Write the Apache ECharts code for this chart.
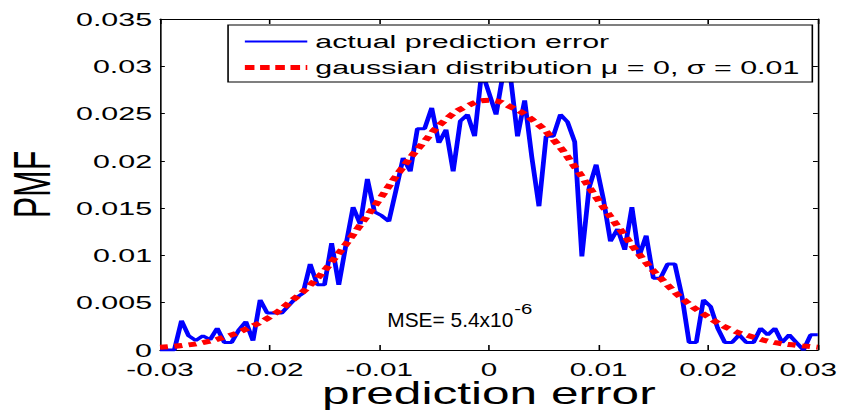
<!DOCTYPE html>
<html><head><meta charset="utf-8">
<script src="https://cdn.jsdelivr.net/npm/echarts@6/dist/echarts.min.js"></script>
<style>
html,body{margin:0;padding:0;background:#fff;overflow:hidden;width:845px;height:410px}
#wrap{width:845px;height:410px;overflow:hidden;position:relative}
#chart{width:528px;height:410px;transform:scaleX(1.6004);transform-origin:0 0;position:absolute;left:0;top:0}
</style></head><body><div id="wrap"><div id="chart"></div></div>
<script>
// ---- data ----
const binStart = -0.03;
const binStep = 0.06 / 92;
const actualPmf = [
  0, 0, 0, 0.0031, 0.0015, 0.0010, 0.0015, 0.0011, 0.0023, 0.0008,
  0.0008, 0.0021, 0.0030, 0.0010, 0.0053, 0.0039, 0.0039, 0.0039, 0.0047, 0.0055,
  0.0060, 0.0091, 0.0069, 0.0069, 0.0113, 0.0069, 0.0111, 0.0151, 0.0133, 0.0181,
  0.0146, 0.0142, 0.0136, 0.0169, 0.0203, 0.0189, 0.0234, 0.0234, 0.0256, 0.0219,
  0.0233, 0.0189, 0.0242, 0.0249, 0.0226, 0.0295, 0.0272, 0.0249, 0.0293, 0.0290,
  0.0226, 0.0264, 0.0204, 0.0152, 0.0226, 0.0226, 0.0249, 0.0241, 0.0220, 0.0099,
  0.0171, 0.0196, 0.0160, 0.0115, 0.0128, 0.0106, 0.0151, 0.0099, 0.0121, 0.0076,
  0.0076, 0.0091, 0.0091, 0.0057, 0.0008, 0.0008, 0.0053, 0.0046, 0.0023, 0.0008,
  0.0008, 0.0016, 0.0008, 0.0008, 0.0023, 0.0016, 0.0023, 0.0008, 0.0016, 0.0008,
  0, 0.0016, 0.0016
];
const gaussX = [-0.030,-0.028,-0.026,-0.024,-0.022,-0.020,-0.018,-0.016,-0.014,-0.012,-0.010,
  -0.008,-0.006,-0.004,-0.002,0,0.002,0.004,0.006,0.008,0.010,0.012,0.014,0.016,0.018,0.020,
  0.022,0.024,0.026,0.028,0.030];
const gaussPmf = [0.0003,0.00047,0.0008,0.0014,0.0023,0.0035,0.0052,0.0072,0.0098,0.0128,0.0159,
  0.0191,0.0219,0.0243,0.0258,0.0264,0.0257,0.0243,0.0221,0.0191,0.0158,0.0127,0.0097,0.0072,
  0.0051,0.0035,0.0022,0.0014,0.0008,0.0005,0.0003];
const xTickValues = [-0.03,-0.02,-0.01,0,0.01,0.02,0.03];
const xTickLabels = ['-0.03','-0.02','-0.01','0','0.01','0.02','0.03'];
const yTickValues = [0,0.005,0.01,0.015,0.02,0.025,0.03,0.035];
const yTickLabels = ['0','0.005','0.01','0.015','0.02','0.025','0.03','0.035'];
const seriesNames = ['actual prediction error','gaussian distribution \u03bc = 0, \u03c3 = 0.01'];
const mseText = 'MSE= 5.4x10';
const mseExp = '-6';
// --------------------------------------

const FONT = '"Liberation Sans", Arial, Helvetica, sans-serif';
function lookup(vals, labels){
  return function(v){
    for (let i=0;i<vals.length;i++){ if (Math.abs(vals[i]-v) < 1e-9) return labels[i]; }
    return '';
  };
}
const xLabelFmt = function(v){
  const s = lookup(xTickValues, xTickLabels)(v);
  return (Math.abs(v - xTickValues[xTickValues.length-1]) < 1e-9) ? '{last|' + s + '}' : s;
};
const blueData = actualPmf.map((y,i)=>[binStart + i*binStep, y]);
const redData = gaussX.map((x,i)=>[x, gaussPmf[i]]);

const chart = echarts.init(document.getElementById('chart'), null, {renderer:'svg'});
const axisCommon = {
  axisLine:{show:true, onZero:false, lineStyle:{color:'#000', width:1}},
  splitLine:{show:false}
};
chart.setOption({
  animation:false,
  backgroundColor:'#fff',
  grid:{left:100, right:17, top:19, bottom:60, containLabel:false, outerBoundsMode:'none'},
  xAxis:[
    Object.assign({}, axisCommon, {
      type:'value', min:-0.03, max:0.03, interval:0.01, position:'bottom',
      axisTick:{show:true, inside:true, length:5, lineStyle:{color:'#000'}},
      axisLabel:{color:'#000', fontFamily:FONT, fontSize:18.5, lineHeight:17, margin:11, formatter:xLabelFmt, showMinLabel:true, showMaxLabel:true,
        rich:{last:{fontFamily:FONT, fontSize:18.5, lineHeight:17, color:'#000', width:48, align:'left'}}},
      name:'prediction error', nameLocation:'middle', nameGap:30, nameMoveOverlap:false,
      nameTextStyle:{color:'#000', fontFamily:FONT, fontSize:31, lineHeight:28}
    }),
    Object.assign({}, axisCommon, {
      type:'value', min:-0.03, max:0.03, interval:0.01, position:'top',
      axisTick:{show:true, inside:true, length:5, lineStyle:{color:'#000'}},
      axisLabel:{show:false}
    })
  ],
  yAxis:[
    Object.assign({}, axisCommon, {
      type:'value', min:0, max:0.035, interval:0.005, position:'left',
      axisTick:{show:true, inside:true, length:3, lineStyle:{color:'#000'}},
      axisLabel:{color:'#000', fontFamily:FONT, fontSize:19, lineHeight:17, margin:5, formatter:lookup(yTickValues,yTickLabels), showMinLabel:true, showMaxLabel:true},
      name:'PMF', nameLocation:'middle', nameGap:64, nameRotate:90, nameMoveOverlap:false,
      nameTextStyle:{color:'#000', fontFamily:FONT, fontSize:32}
    }),
    Object.assign({}, axisCommon, {
      type:'value', min:0, max:0.035, interval:0.005, position:'right',
      axisTick:{show:true, inside:true, length:3, lineStyle:{color:'#000'}},
      axisLabel:{show:false}
    })
  ],
  legend:{
    orient:'vertical', left:142.5, top:25, align:'left',
    itemWidth:39, itemHeight:14, itemGap:7,
    padding:[7,8,5,8],
    backgroundColor:'#fff', borderColor:'#000', borderWidth:1, borderRadius:0,
    textStyle:{color:'#000', fontFamily:FONT, fontSize:19, lineHeight:19},
    data:[
      {name:seriesNames[0], itemStyle:{opacity:0}, lineStyle:{width:2, opacity:1}},
      {name:seriesNames[1], itemStyle:{opacity:0}, lineStyle:{width:5, type:[6,3.5], opacity:1}}
    ]
  },
  series:[
    {name:seriesNames[0], type:'line', data:blueData, showSymbol:false, symbol:'none',
     xAxisIndex:0, yAxisIndex:0, lineStyle:{color:'#0000ff', width:3}, itemStyle:{color:'#0000ff'}, z:2},
    {name:seriesNames[1], type:'line', data:redData, showSymbol:false, symbol:'none', smooth:true,
     xAxisIndex:0, yAxisIndex:0, lineStyle:{color:'#ff0000', width:5, type:[5,4], cap:'butt'}, itemStyle:{color:'#ff0000'}, z:3}
  ],
  graphic:[
    {type:'text', x:242, y:310, scaleX:0.653, style:{text:mseText, fill:'#000', font:'20px '+FONT}},
    {type:'text', x:321.3, y:301, scaleX:0.85, style:{text:mseExp, fill:'#000', font:'15px '+FONT}}
  ]
});
</script></body></html>
